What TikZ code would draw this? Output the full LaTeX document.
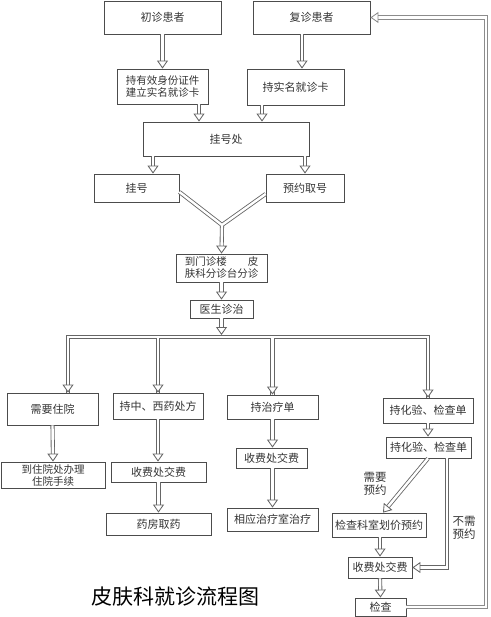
\documentclass[tikz,border=0pt]{standalone}
\usepackage{fontspec}
\setmainfont{Noto Sans CJK SC}
\usetikzlibrary{arrows.meta}

\begin{document}
\begin{tikzpicture}[x=1pt, y=-1pt,
  box/.style={draw=black!70, line width=0.8pt, inner sep=0pt, align=center, text=black!80, font=\fontsize{11}{13}\selectfont},
  sz/.style 2 args={minimum width=#1, minimum height=#2},
  two/.style={font=\fontsize{10.5}{12}\selectfont},
  pipe/.style={draw=black!60, line width=0.85pt, double=white, double distance=2.4pt},
  pipearrow/.style={pipe, -{Triangle[width=11pt, length=8pt, fill=white]}},
  looppipe/.style={pipearrow, draw=black!45},
  lbl/.style={align=center, text=black!80, font=\fontsize{11.5}{13.5}\selectfont}]
\useasboundingbox (0,0) rectangle (490,617);
% patients and cards:
\node[box, sz={117}{33}] (chu) at (162.5,17.5) {初诊患者};
\node[box, sz={117}{33}] (fu) at (311.5,17.5) {复诊患者};
\node[box, two, sz={91}{35}] (zheng) at (162.5,86.5) {持有效身份证件\\建立实名就诊卡};
\node[box, sz={97}{36}] (ka) at (295.5,87) {持实名就诊卡};
% registration:
\node[box, sz={166}{34}] (guahaochu) at (226,139) {挂号处};
\node[box, sz={85}{28}] (guahao) at (136.5,188) {挂号};
\node[box, sz={78}{28}] (yuyue) at (305,188) {预约取号};
\node[box, two, sz={91}{28}] (daomen) at (221.5,268) {到门诊楼\hspace{2em}皮\\肤科分诊台分诊};
\node[box, sz={63}{18}] (yisheng) at (221.5,309) {医生诊治};
% four branches:
\node[box, sz={91}{32}] (zhuyuan) at (52.5,409) {需要住院};
\node[box, sz={90}{26}] (yaofang) at (158,406) {持中、西药处方};
\node[box, sz={91}{24}] (zhiliao) at (272.5,407) {持治疗单};
\node[box, sz={90}{25}] (huayanA) at (428,410.5) {持化验、检查单};
\node[box, two, sz={104}{26}] (banli) at (53,475) {到住院处办理\\住院手续};
\node[box, sz={95}{20}] (shoufeiA) at (158.5,472) {收费处交费};
\node[box, sz={105}{22}] (quyao) at (158.5,524) {药房取药};
\node[box, sz={71}{20}] (shoufeiB) at (271.5,458) {收费处交费};
\node[box, sz={91}{23}] (zhiliaoshi) at (272.5,519.5) {相应治疗室治疗};
\node[box, sz={85}{21}] (huayanB) at (428.5,447.5) {持化验、检查单};
\node[box, sz={94}{24}] (huajia) at (379,525) {检查科室划价预约};
\node[box, sz={64}{21}] (shoufeiC) at (380,567.5) {收费处交费};
\node[box, sz={51}{18}] (jiancha) at (380.5,607) {检查};
\node[lbl] (need) at (375,484) {需要\\预约};
\node[lbl] (noneed) at (464,528) {不需\\预约};
\node[font=\fontsize{21}{24}\selectfont] (title) at (175,597) {皮肤科就诊流程图};
% top arrows:
\draw[pipearrow] (chu.south) -- (zheng.north);
\draw[pipearrow] ([xshift=-9.5]fu.south) -- ([xshift=-9.5]fu.south |- ka.north);
\draw[pipearrow] ([xshift=36.5]zheng.south) -- ([xshift=36.5]zheng.south |- guahaochu.north);
\draw[pipearrow] ([xshift=-33.5]ka.south) -- ([xshift=-33.5]ka.south |- guahaochu.north);
\draw[pipearrow] ([xshift=-73]guahaochu.south) -- ([xshift=-73]guahaochu.south |- guahao.north);
\draw[pipearrow] ([xshift=79]guahaochu.south) -- (yuyue.north);
% merge:
\coordinate (m) at (222,225);
\draw[pipearrow] ([yshift=-6]yuyue.west) -- (m) ([yshift=-4]guahao.east) -- (m) -- (daomen.north);
\draw[pipearrow] (daomen.south) -- (yisheng.north);
% branch bar:
\coordinate (b0) at (221.5,337);
\draw[pipe] ([xshift=15.5]zhuyuan.north) |- (b0) -| (huayanA.north) (yaofang.north) -- (yaofang.north |- b0) (zhiliao.north) -- (zhiliao.north |- b0);
\draw[pipearrow] (yisheng.south) -- ([yshift=2]b0);
\foreach \n/\s in {zhuyuan/15.5, yaofang/0, zhiliao/0, huayanA/0}
  \draw[pipearrow] ([xshift=\s, yshift=12]\n.north) -- ([xshift=\s]\n.north);
% columns:
\draw[pipearrow] (zhuyuan.south) -- (banli.north);
\draw[pipearrow] (yaofang.south) -- (yaofang.south |- shoufeiA.north);
\draw[pipearrow] (shoufeiA.south) -- (quyao.north);
\draw[pipearrow] (zhiliao.south) -- (zhiliao.south |- shoufeiB.north);
\draw[pipearrow] (zhiliao.south |- shoufeiB.south) -- (zhiliaoshi.north);
\draw[pipearrow] (huayanA.south) -- (huayanA.south |- huayanB.north);
\draw[pipearrow] ([xshift=-0.5]huayanB.south) -- ([xshift=4]huajia.north);
\draw[pipearrow] ([xshift=18.5]huayanB.south) |- (shoufeiC.east);
\draw[pipearrow] (huajia.south -| shoufeiC.north) -- (shoufeiC.north);
\draw[pipearrow] (shoufeiC.south) -- (jiancha.north);
% back to the returning patients:
\coordinate (r) at (486,0);
\draw[looppipe] (jiancha.east) -- (jiancha.east -| r) |- (fu.east);
\end{tikzpicture}
\end{document}
